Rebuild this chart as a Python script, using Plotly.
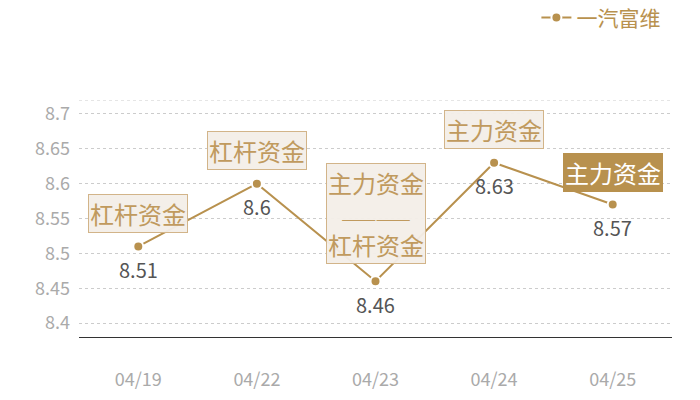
import plotly.graph_objects as go

dates = ["04/19", "04/22", "04/23", "04/24", "04/25"]
values = [8.51, 8.6, 8.46, 8.63, 8.57]
value_labels = ["8.51", "8.6", "8.46", "8.63", "8.57"]
tags = ["杠杆资金", "杠杆资金",
        "主力资金<br><span style='font-size:14px'>——————</span><br>杠杆资金",
        "主力资金", "主力资金"]
tag_filled = [False, False, False, False, True]
tag_shift = [33, 33, 68, 33, 32]
y_ticks = [8.4, 8.45, 8.5, 8.55, 8.6, 8.65, 8.7]
y_tick_text = ["8.4", "8.45", "8.5", "8.55", "8.6", "8.65", "8.7"]
series_name = "一汽富维"

GOLD = "#b8914e"
FONT = "Noto Sans CJK SC"

fig = go.Figure()
fig.add_trace(go.Scatter(
    x=dates, y=values, mode="lines+markers", name=series_name,
    line=dict(color=GOLD, width=2),
    marker=dict(color=GOLD, size=10, line=dict(color="white", width=2)),
    cliponaxis=False,
))

for d, v, lab in zip(dates, values, value_labels):
    fig.add_annotation(
        x=d, y=v, xref="x", yref="y", text=lab, showarrow=False, yshift=-23,
        font=dict(family=FONT, size=20, color="#555555"),
    )

for d, v, t, f, s in zip(dates, values, tags, tag_filled, tag_shift):
    fig.add_annotation(
        x=d, y=v, xref="x", yref="y", text=t, showarrow=False, yshift=s,
        font=dict(family=FONT, size=24, color="white" if f else "#c09a5e"),
        bgcolor=GOLD if f else "rgba(243,238,232,0.95)",
        bordercolor=GOLD if f else "#d2b489", borderwidth=1, borderpad=1,
        align="center",
    )

# top gridline at axis top
fig.add_shape(type="line", xref="paper", yref="y", x0=0, x1=1, y0=8.72, y1=8.72,
              line=dict(color="#cccccc", width=1, dash="dot"), layer="below")

fig.update_layout(
    width=692, height=392,
    margin=dict(l=71, r=28, t=92, b=63, autoexpand=False),
    paper_bgcolor="white", plot_bgcolor="white",
    font=dict(family=FONT),
    showlegend=True,
    legend=dict(xref="container", yref="container", x=0.95, y=0.975,
                xanchor="right", yanchor="middle",
                font=dict(family=FONT, size=21, color=GOLD),
                bgcolor="rgba(0,0,0,0)", itemwidth=30),
    xaxis=dict(type="category", range=[-0.5, 4.5], showgrid=False,
               showline=True, linecolor="#333333", linewidth=1,
               ticks="", ticklabelstandoff=26, automargin=False,
               tickfont=dict(family=FONT, size=18, color="#aaaaaa")),
    yaxis=dict(range=[8.38, 8.72], tickvals=y_ticks, ticktext=y_tick_text,
               showgrid=True, gridcolor="#cccccc", griddash="dot", gridwidth=1,
               zeroline=False, showline=False, ticks="", ticklabelstandoff=8,
               automargin=False,
               tickfont=dict(family=FONT, size=18, color="#aaaaaa")),
)

fig.write_html("out.html")
